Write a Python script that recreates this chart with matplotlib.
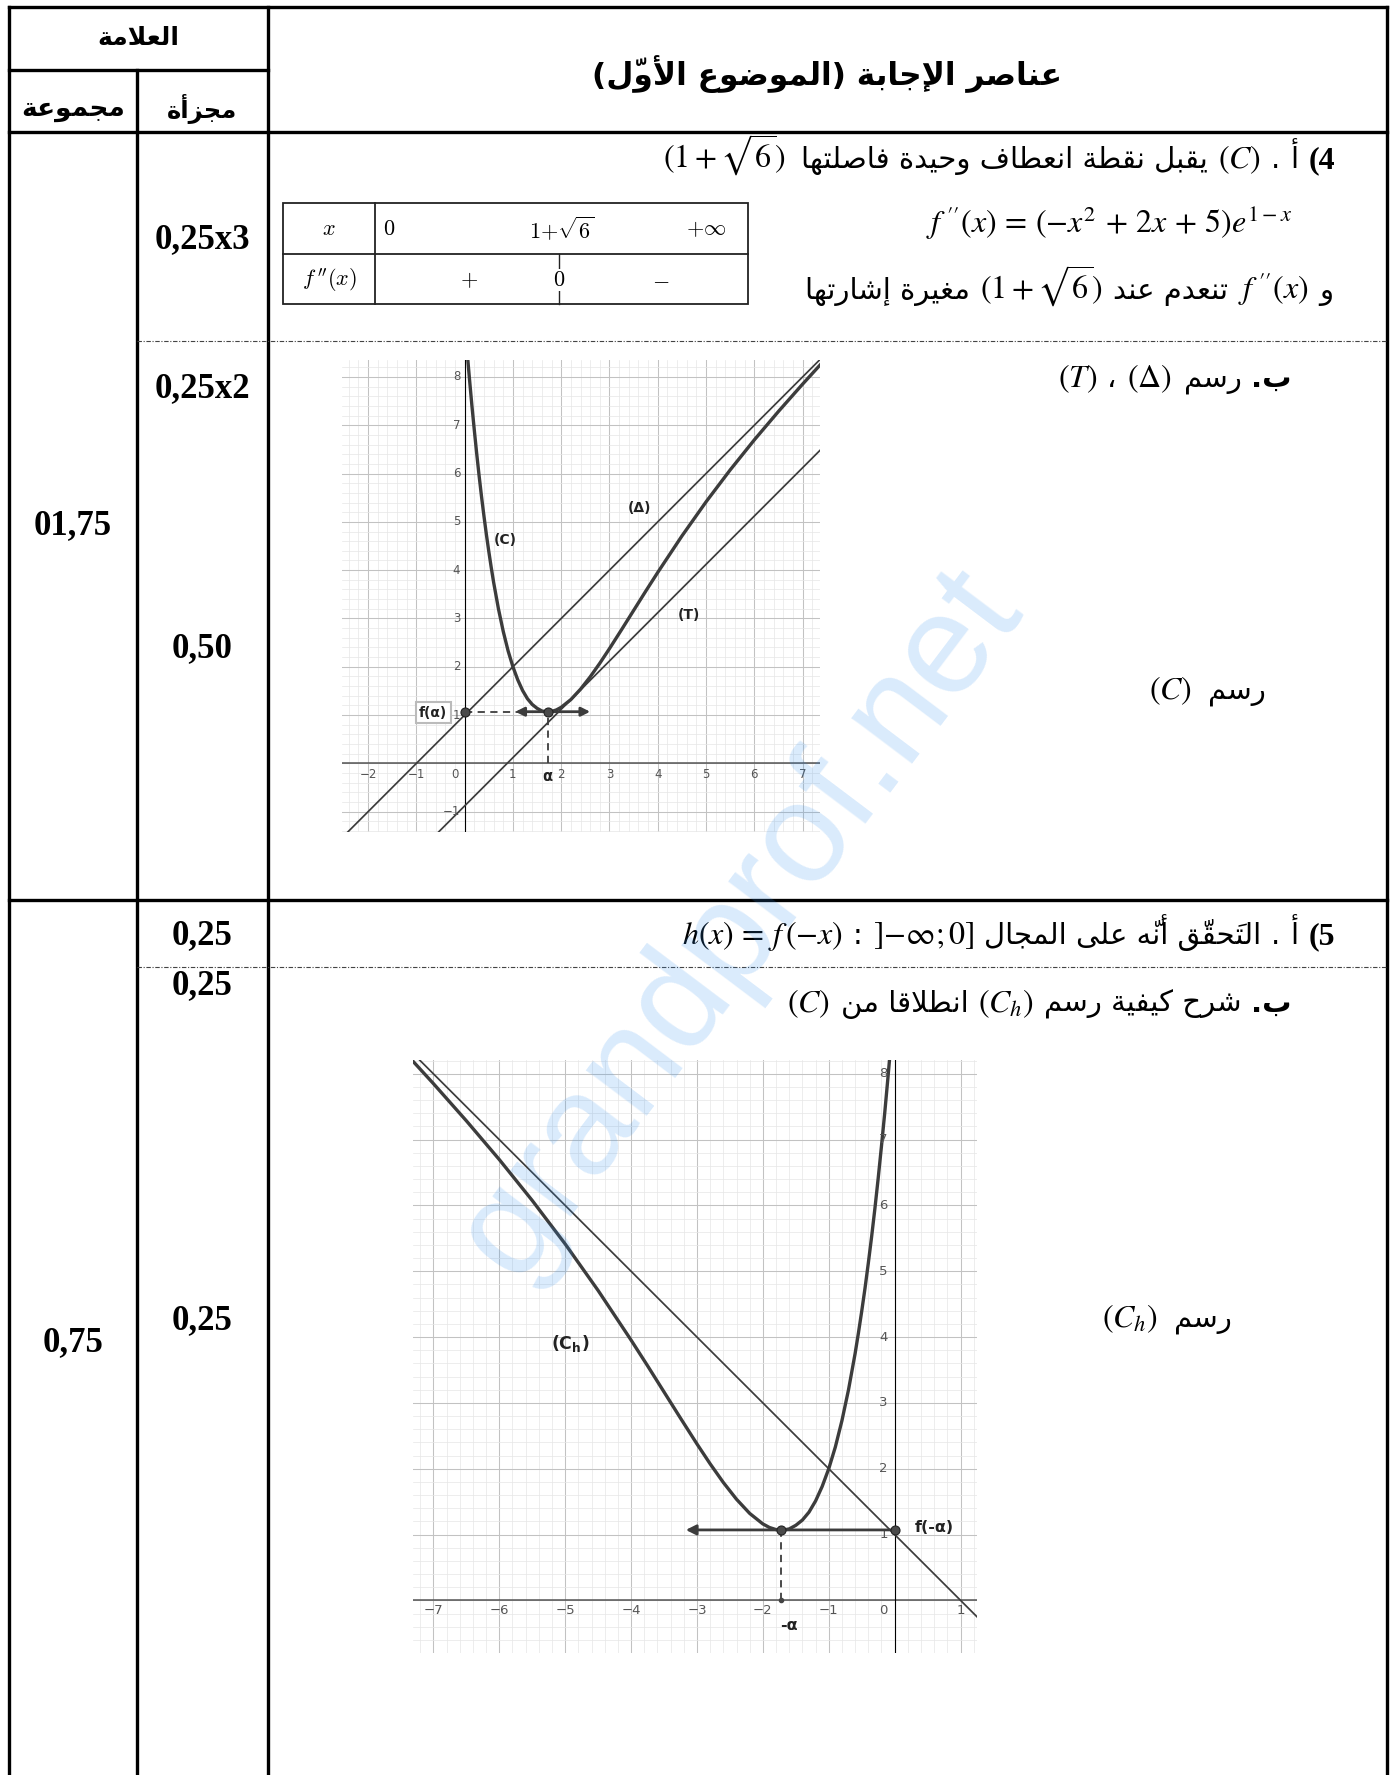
import numpy as np
import matplotlib
matplotlib.use('Agg')
import matplotlib.pyplot as plt
from matplotlib.patches import Rectangle
from matplotlib.ticker import MultipleLocator

# ---------------- data ----------------
# curve (C) of the first plot
c_x = [0.06, 0.1, 0.15, 0.2, 0.25, 0.3, 0.35, 0.4, 0.45, 0.5, 0.55, 0.6, 0.7, 0.8, 0.9, 1.0,
       1.1, 1.2, 1.3, 1.4, 1.5, 1.6, 1.7, 1.8, 1.9, 2.0, 2.2, 2.4, 2.6, 2.8, 3.0, 3.25, 3.5,
       3.75, 4.0, 4.5, 5.0, 5.5, 6.0, 6.5, 7.0, 7.4]
c_y = [8.42, 7.96, 7.41, 6.90, 6.41, 5.95, 5.52, 5.12, 4.74, 4.39, 4.06, 3.75, 3.20, 2.73, 2.33, 2.00,
       1.73, 1.51, 1.34, 1.22, 1.14, 1.085, 1.066, 1.075, 1.107, 1.161, 1.321, 1.536, 1.791, 2.074, 2.376,
       2.768, 3.166, 3.564, 3.954, 4.707, 5.414, 6.075, 6.697, 7.286, 7.851, 8.289]
# (C_h) is (C) mirrored in the y axis
ch_x = [-v for v in c_x]
ch_y = c_y

# straight lines (slope, intercept)
delta_line = (1, 1)      # (Δ)
tangent_line = (1, -0.88)  # (T)
delta_h_line = (-1, 1)   # mirrored asymptote

alpha = 1.72
f_alpha = 1.07

g1_xticks = [-2, -1, 1, 2, 3, 4, 5, 6, 7]
g1_yticks = [-1, 1, 2, 3, 4, 5, 6, 7, 8]
g2_xticks = [-7, -6, -5, -4, -3, -2, -1, 1]
g2_yticks = [1, 2, 3, 4, 5, 6, 7, 8]

marks_col = ['0,25x3', '0,25x2', '0,50', '0,25', '0,25', '0,25']
marks_y = [248, 397, 657, 944, 994, 1329]
totals_col = ['01,75', '0,75']
totals_y = [534, 1351]

# ---------------- arabic shaping (matplotlib has no bidi / joining) ----------------
DUAL = {'ئ': 0xFE89, 'ب': 0xFE8F, 'ت': 0xFE95, 'ث': 0xFE99, 'ج': 0xFE9D, 'ح': 0xFEA1, 'خ': 0xFEA5,
        'س': 0xFEB1, 'ش': 0xFEB5, 'ص': 0xFEB9, 'ض': 0xFEBD, 'ط': 0xFEC1, 'ظ': 0xFEC5, 'ع': 0xFEC9,
        'غ': 0xFECD, 'ف': 0xFED1, 'ق': 0xFED5, 'ك': 0xFED9, 'ل': 0xFEDD, 'م': 0xFEE1, 'ن': 0xFEE5,
        'ه': 0xFEE9, 'ي': 0xFEF1}
RIGHT = {'آ': 0xFE81, 'أ': 0xFE83, 'ؤ': 0xFE85, 'إ': 0xFE87, 'ا': 0xFE8D, 'ة': 0xFE93, 'د': 0xFEA9,
         'ذ': 0xFEAB, 'ر': 0xFEAD, 'ز': 0xFEAF, 'و': 0xFEED, 'ى': 0xFEEF}
LAM_ALEF = {'آ': 0xFEF5, 'أ': 0xFEF7, 'إ': 0xFEF9, 'ا': 0xFEFB}
MARKS = set('\u064b\u064c\u064d\u064e\u064f\u0650\u0651\u0652')


def shape(text):
    units = []
    for ch in text:
        if ch in MARKS and units:
            units[-1][1] += ch
        else:
            units.append([ch, ''])
    merged = []
    i = 0
    while i < len(units):
        b, m = units[i]
        if b == 'ل' and i + 1 < len(units) and units[i + 1][0] in LAM_ALEF:
            merged.append(['LA' + units[i + 1][0], m + units[i + 1][1]])
            i += 2
        else:
            merged.append([b, m])
            i += 1

    def is_ar(u):
        return u in DUAL or u in RIGHT or u.startswith('LA')

    out = []
    for i, (b, m) in enumerate(merged):
        prev = merged[i - 1][0] if i > 0 else ''
        nxt = merged[i + 1][0] if i + 1 < len(merged) else ''
        jp = prev in DUAL
        jn = b in DUAL and is_ar(nxt)
        if b.startswith('LA'):
            code = LAM_ALEF[b[2]] + (1 if jp else 0)
        elif b in DUAL:
            code = DUAL[b] + (3 if jp and jn else 2 if jn else 1 if jp else 0)
        elif b in RIGHT:
            code = RIGHT[b] + (1 if jp else 0)
        else:
            out.append(b + m)
            continue
        # the mark glyphs hang to the right of the pen, so they go before their letter
        out.append(m + chr(code))
    s = ''.join(reversed(out))
    return s.translate(str.maketrans('()', ')('))


# ---------------- page ----------------
fig = plt.figure(figsize=(13.92, 17.75), dpi=100)
page = fig.add_axes([0, 0, 1, 1])
page.set_xlim(0, 1392)
page.set_ylim(1775, 0)
page.axis('off')
renderer = fig.canvas.get_renderer()

AR = 21
MS = 23
FONTS = {
    'ar': dict(family='DejaVu Sans', fontsize=AR),
    'arb': dict(family='DejaVu Sans', fontweight='bold', fontsize=AR),
    'm': dict(math_fontfamily='stix', fontsize=MS),
    'b': dict(family='Liberation Serif', fontweight='bold', fontsize=MS),
}


def rtl_line(parts, right, base):
    # parts are given in reading order (right to left)
    x = right
    for p in parts:
        if isinstance(p, (int, float)):
            x -= p
            continue
        s, kind = p
        txt = shape(s) if kind.startswith('ar') else s
        t = page.text(x, base, txt, ha='right', va='baseline', **FONTS[kind])
        x -= t.get_window_extent(renderer).width


def seg(x0, y0, x1, y1, **kw):
    page.plot([x0, x1], [y0, y1], solid_capstyle='projecting', **kw)


L, C1, C2, R = 9, 137, 268, 1387
TOP, H1, H2, ROW, BOT = 7, 70, 132, 900, 1775
thick = dict(color='black', lw=2.4)
seg(L, TOP, R, TOP, **thick)
seg(L, TOP, L, BOT, **thick)
seg(R, TOP, R, BOT, **thick)
seg(C2, TOP, C2, BOT, **thick)
seg(C1, H1, C1, BOT, **thick)
seg(L, H1, C2, H1, **thick)
seg(L, H2, R, H2, **thick)
seg(L, ROW, R, ROW, **thick)
dash = dict(color='#444444', lw=0.8, linestyle=(0, (4, 1.5, 1, 1.5)))
seg(C1, 341, R, 341, **dash)
seg(C1, 967, R, 967, **dash)

# header
hb = dict(family='DejaVu Sans', fontweight='bold', ha='center', va='center')
page.text((L + C2) / 2, 38, shape('العلامة'), fontsize=18, **hb)
page.text((L + C1) / 2, 109, shape('مجموعة'), fontsize=19, **hb)
page.text((C1 + C2) / 2, 109, shape('مجزأة'), fontsize=17.5, **hb)
page.text((C2 + R) / 2, 74, shape('عناصر الإجابة (الموضوع الأوّل)'), fontsize=22.5, **hb)

# marks columns
for s, y in zip(marks_col, marks_y):
    page.text((C1 + C2) / 2, y, s, ha='center', va='baseline',
              family='Liberation Serif', fontweight='bold', fontsize=25)
for s, y in zip(totals_col, totals_y):
    page.text((L + C1) / 2, y, s, ha='center', va='baseline',
              family='Liberation Serif', fontweight='bold', fontsize=25)

# answer texts
g = 10
rtl_line([('(4', 'b'), g, ('أ', 'ar'), g, ('.', 'ar'), g, (r'$(C)$', 'm'), g,
          ('يقبل نقطة انعطاف وحيدة فاصلتها', 'ar'), g + 6, (r'$(1+\sqrt{6})$', 'm')], 1335, 168)
rtl_line([(r"$f\;''(x)\,=\,(-x^2\,+\,2x\,+\,5)e^{1-x}$", 'm')], 1292, 233)
rtl_line([('و', 'ar'), g, (r"$f\;''(x)$", 'm'), g, ('تنعدم عند', 'ar'), g,
          (r'$(1+\sqrt{6})$', 'm'), g, ('مغيرة إشارتها', 'ar')], 1333, 299)
rtl_line([('ب.', 'arb'), g, ('رسم', 'ar'), g + 2, (r'$\left(\Delta\right)$', 'm'), g,
          ('،', 'ar'), g, (r'$\left(T\right)$', 'm')], 1292, 387)
rtl_line([('رسم', 'ar'), g + 6, (r'$(C)$', 'm')], 1266, 699)
rtl_line([('(5', 'b'), g, ('أ', 'ar'), g, ('.', 'ar'), g, ('التَحقّق أنّه على المجال', 'ar'), g,
          (r'$]{-}\infty;0]$', 'm'), g, (':', 'ar'), g, (r'$h(x)\,=\,f\,(-x)$', 'm')], 1335, 944)
rtl_line([('ب.', 'arb'), g, ('شرح كيفية رسم', 'ar'), g, (r'$(C_h)$', 'm'), g,
          ('انطلاقا من', 'ar'), g, (r'$(C)$', 'm')], 1292, 1012)
rtl_line([('رسم', 'ar'), g + 6, (r'$(C_h)$', 'm')], 1232, 1327)

# sign table of f''
page.add_patch(Rectangle((283, 203), 465, 101, fill=False, ec='#222222', lw=1.3))
seg(375, 203, 375, 304, color='#222222', lw=1.3)
seg(283, 254, 748, 254, color='#222222', lw=1.3)
seg(559, 254, 559, 304, color='#222222', lw=1.0)
tk = dict(math_fontfamily='cm', fontsize=16, va='center')
page.text(329, 229, r'$x$', ha='center', **tk)
page.text(383, 229, r'$0$', ha='left', **tk)
page.text(562, 229, r'$1{+}\sqrt{6}$', ha='center', **tk)
page.text(706, 229, r'$+\infty$', ha='center', **tk)
page.text(329, 280, r"$f\,''(x)$", ha='center', **tk)
page.text(469, 280, r'$+$', ha='center', **tk)
page.text(559, 280, r'$0$', ha='center', bbox=dict(fc='white', ec='none', pad=0.5), **tk)
page.text(661, 280, r'$-$', ha='center', **tk)


# ---------------- GeoGebra-like plots ----------------
def geo_axes(px, py, xlim, ylim):
    W, H = 1392, 1775
    ax = fig.add_axes([px[0] / W, 1 - py[1] / H, (px[1] - px[0]) / W, (py[1] - py[0]) / H])
    ax.set_xlim(*xlim)
    ax.set_ylim(*ylim)
    ax.xaxis.set_major_locator(MultipleLocator(1))
    ax.yaxis.set_major_locator(MultipleLocator(1))
    ax.xaxis.set_minor_locator(MultipleLocator(0.2))
    ax.yaxis.set_minor_locator(MultipleLocator(0.2))
    ax.grid(which='minor', color='#e6e6e6', lw=0.5)
    ax.grid(which='major', color='#c2c2c2', lw=0.75)
    ax.set_axisbelow(True)
    ax.tick_params(which='both', length=0, labelbottom=False, labelleft=False)
    for sp in ax.spines.values():
        sp.set_visible(False)
    ax.axhline(0, color='#555555', lw=1.1, zorder=1)
    ax.axvline(0, color='black', lw=0.8, zorder=1)
    return ax


curve_kw = dict(color='#3c3c3c', lw=2.4, solid_capstyle='round', zorder=3)
line_kw = dict(color='#3c3c3c', lw=1.25, zorder=2)
pt_kw = dict(marker='o', ms=6.5, mfc='#4a4a4a', mec='#222222', mew=0.8, zorder=5, ls='none')
dash_kw = dict(color='#3c3c3c', lw=1.3, ls=(0, (4, 3)), zorder=2)
lab_kw = dict(family='DejaVu Sans', fontweight='bold', color='#222222')

# plot 1 : (C), (Δ), (T)
ax1 = geo_axes((342, 820), (360, 832), (-2.54, 7.36), (-1.42, 8.35))
ax1.plot(c_x, c_y, **curve_kw)
ax1.axline((0, delta_line[1]), slope=delta_line[0], **line_kw)
ax1.axline((0, tangent_line[1]), slope=tangent_line[0], **line_kw)
ax1.plot([0, alpha], [f_alpha, f_alpha], **dash_kw)
ax1.plot([alpha, alpha], [0, f_alpha], **dash_kw)
for tip in (1.05, 2.6):
    ax1.annotate('', xy=(tip, f_alpha), xytext=(alpha, f_alpha),
                 arrowprops=dict(arrowstyle='-|>', color='#3c3c3c', lw=2.0, mutation_scale=13,
                                 shrinkA=0, shrinkB=0), zorder=4)
ax1.plot([0, alpha], [f_alpha, f_alpha], **pt_kw)
tl = dict(fontsize=8.5, color='#555555', va='center')
for v in g1_xticks:
    ax1.text(v, -0.23, f'{v}'.replace('-', '\u2212'), ha='center', **tl)
ax1.text(-0.21, -0.23, '0', ha='center', **tl)
for v in g1_yticks:
    ax1.text(-0.09, v, f'{v}'.replace('-', '\u2212'), ha='right', **tl)
ax1.text(-0.65, 1.05, 'f(α)', ha='center', va='center', fontsize=10, zorder=6,
         bbox=dict(boxstyle='square,pad=0.25', fc='white', ec='#bbbbbb', lw=1.5), **lab_kw)
ax1.text(alpha, -0.27, 'α', ha='center', va='center', fontsize=10.5, **lab_kw)
ax1.text(0.84, 4.62, '(C)', ha='center', va='center', fontsize=10, **lab_kw)
ax1.text(3.63, 5.28, '(Δ)', ha='center', va='center', fontsize=10, **lab_kw)
ax1.text(4.65, 3.07, '(T)', ha='center', va='center', fontsize=10, **lab_kw)

# plot 2 : (C_h)
ax2 = geo_axes((413, 977), (1060, 1653), (-7.31, 1.25), (-0.80, 8.21))
ax2.plot(ch_x, ch_y, **curve_kw)
ax2.axline((0, delta_h_line[1]), slope=delta_h_line[0], **line_kw)
ax2.plot([-alpha, -alpha], [0, f_alpha], **dash_kw)
ax2.annotate('', xy=(-3.17, f_alpha), xytext=(0, f_alpha),
             arrowprops=dict(arrowstyle='-|>', color='#3c3c3c', lw=2.0, mutation_scale=15,
                             shrinkA=0, shrinkB=0), zorder=4)
ax2.plot([-alpha, 0], [f_alpha, f_alpha], **pt_kw)
ax2.plot([-alpha], [0], marker='o', ms=3, color='#444444', ls='none', zorder=5)
tl2 = dict(fontsize=9.5, color='#555555', va='center')
for v in g2_xticks:
    ax2.text(v, -0.16, f'{v}'.replace('-', '\u2212'), ha='center', **tl2)
ax2.text(-0.17, -0.16, '0', ha='center', **tl2)
for v in g2_yticks:
    ax2.text(-0.17, v, f'{v}', ha='center', **tl2)
ax2.text(0.3, 1.1, 'f(-α)', ha='left', va='center', fontsize=11.5, **lab_kw)
ax2.text(-1.6, -0.38, '-α', ha='center', va='center', fontsize=11.5, **lab_kw)
ax2.text(-4.92, 3.9, r'$\mathbf{(C_h)}$', ha='center', va='center', fontsize=12.5,
         math_fontfamily='dejavusans', color='#222222')

# watermark
fig.text(740 / 1392, 1 - 923 / 1775, 'grandprof.net', rotation=53, ha='center', va='center',
         fontsize=102, family='Liberation Sans', color='#2f8fef', alpha=0.18, zorder=10)

fig.savefig('out.png', dpi=100)
